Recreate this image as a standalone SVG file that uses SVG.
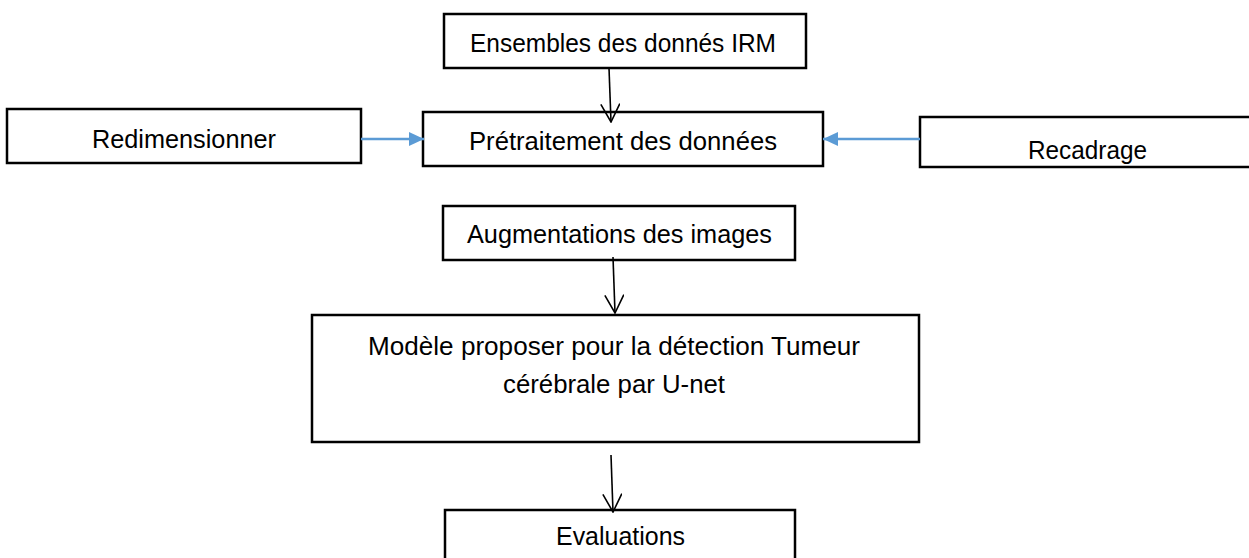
<svg xmlns="http://www.w3.org/2000/svg" width="1249" height="558" viewBox="0 0 1249 558">
  <style>
    .box { fill: #ffffff; stroke: #000000; stroke-width: 2.5; }
    .lbl { font-family: "Liberation Sans", Arial, sans-serif; font-size: 25px; fill: #000000; }
    .blk { stroke: #000000; stroke-width: 1.6; fill: none; }
    .blu { stroke: #5B9BD5; stroke-width: 2.5; fill: none; }
  </style>
  <defs>
    <marker id="vhead" markerUnits="userSpaceOnUse" viewBox="0 0 20 20" refX="19" refY="10" markerWidth="20" markerHeight="20" orient="auto">
      <path d="M1,0.5 L19,10 L1,19.5" fill="none" stroke="#000000" stroke-width="1.6"/>
    </marker>
    <marker id="bhead" markerUnits="userSpaceOnUse" viewBox="0 0 15 14" refX="15" refY="7" markerWidth="15" markerHeight="14" orient="auto">
      <path d="M0,0 L15,7 L0,14 Z" fill="#5B9BD5"/>
    </marker>
    <clipPath id="clipRecadrage">
      <rect x="921" y="118" width="330" height="46"/>
    </clipPath>
  </defs>
  <rect width="1249" height="558" fill="#ffffff"/>

  <g id="node-ensembles">
    <rect class="box" x="444" y="14" width="362" height="54"/>
    <text class="lbl" x="470" y="52" textLength="306" lengthAdjust="spacingAndGlyphs">Ensembles des donnés IRM</text>
  </g>

  <g id="node-redimensionner">
    <rect class="box" x="7" y="109" width="354" height="54"/>
    <text class="lbl" x="92" y="148" textLength="184" lengthAdjust="spacingAndGlyphs">Redimensionner</text>
  </g>

  <g id="node-pretraitement">
    <rect class="box" x="423" y="112" width="400" height="54"/>
    <text class="lbl" x="469" y="150" textLength="308" lengthAdjust="spacingAndGlyphs">Prétraitement des données</text>
  </g>

  <g id="node-recadrage">
    <rect class="box" x="920" y="117" width="340" height="50"/>
    <text class="lbl" x="1028" y="159" textLength="119" lengthAdjust="spacingAndGlyphs" clip-path="url(#clipRecadrage)">Recadrage</text>
  </g>

  <g id="node-augmentations">
    <rect class="box" x="443" y="206" width="352" height="54"/>
    <text class="lbl" x="467" y="243" textLength="305" lengthAdjust="spacingAndGlyphs">Augmentations des images</text>
  </g>

  <g id="node-modele">
    <rect class="box" x="312" y="315" width="607" height="127"/>
    <text class="lbl" x="368" y="355" textLength="492" lengthAdjust="spacingAndGlyphs">Modèle proposer pour la détection Tumeur</text>
    <text class="lbl" x="503" y="393" textLength="222" lengthAdjust="spacingAndGlyphs">cérébrale par U-net</text>
  </g>

  <g id="node-evaluations">
    <rect class="box" x="445" y="510" width="350" height="60"/>
    <text class="lbl" x="556" y="545" textLength="129" lengthAdjust="spacingAndGlyphs">Evaluations</text>
  </g>

  <g id="connectors">
    <line class="blk" x1="609" y1="68" x2="611" y2="122" marker-end="url(#vhead)"/>
    <line class="blu" x1="361" y1="139" x2="424" y2="139" marker-end="url(#bhead)"/>
    <line class="blu" x1="920" y1="139" x2="823" y2="139" marker-end="url(#bhead)"/>
    <line class="blk" x1="613" y1="257" x2="615" y2="313" marker-end="url(#vhead)"/>
    <line class="blk" x1="611" y1="455" x2="613" y2="512" marker-end="url(#vhead)"/>
  </g>
</svg>
